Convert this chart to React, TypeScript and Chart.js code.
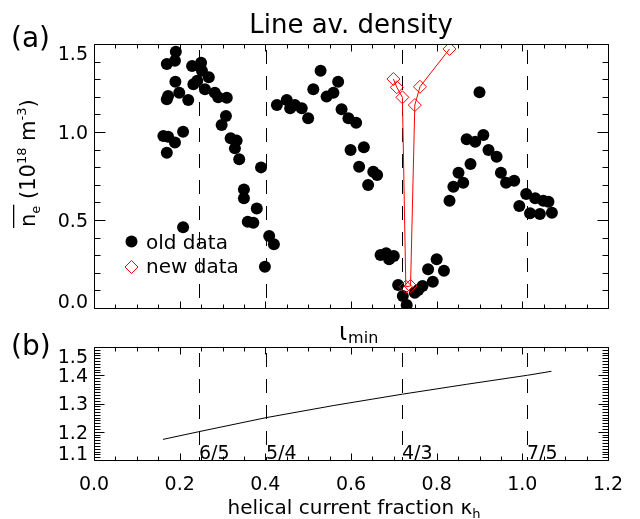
import React, { useEffect, useRef } from 'react';
import { Chart, registerables } from 'chart.js';

Chart.register(...registerables);

// ---------- data ----------
const OLD_KAPPA = [
  0.191, 0.170, 0.189, 0.229, 0.250, 0.252, 0.190, 0.232, 0.241, 0.268,
  0.170, 0.173, 0.199, 0.220, 0.259, 0.282, 0.290, 0.310, 0.308, 0.298,
  0.162, 0.173, 0.189, 0.208, 0.170, 0.319, 0.333, 0.329, 0.339, 0.390,
  0.350, 0.350, 0.380, 0.359, 0.372, 0.208, 0.409, 0.420, 0.399,
  0.427, 0.450, 0.469, 0.485, 0.458, 0.500, 0.529, 0.570, 0.512, 0.543,
  0.559, 0.578, 0.594, 0.612, 0.599, 0.630, 0.619, 0.652, 0.661, 0.640,
  0.669, 0.682, 0.689, 0.700, 0.710, 0.721, 0.730, 0.749, 0.767, 0.791,
  0.780, 0.800, 0.817, 0.757,
  0.830, 0.839, 0.862, 0.851, 0.879, 0.900, 0.870, 0.890, 0.909, 0.921,
  0.940, 0.950, 0.962, 0.981, 1.009, 1.030, 1.049, 1.061, 0.993, 1.018,
  1.041, 1.069,
];
const OLD_DENSITY = [
  1.456, 1.386, 1.405, 1.375, 1.394, 1.348, 1.286, 1.271, 1.291, 1.311,
  1.186, 1.205, 1.223, 1.182, 1.243, 1.223, 1.197, 1.195, 1.091, 1.040,
  0.977, 0.973, 0.941, 1.002, 0.882, 0.964, 0.951, 0.907, 0.845, 0.799,
  0.674, 0.623, 0.566, 0.490, 0.485, 0.459, 0.409, 0.362, 0.235,
  1.153, 1.182, 1.153, 1.135, 1.135, 1.078, 1.348, 1.286, 1.243, 1.201,
  1.223, 1.129, 1.078, 1.053, 0.898, 0.913, 0.803, 0.774, 0.756, 0.699,
  0.301, 0.311, 0.277, 0.295, 0.131, 0.068, 0.017, 0.087, 0.125, 0.149,
  0.220, 0.277, 0.212, 0.102,
  0.610, 0.689, 0.712, 0.769, 0.818, 1.226, 0.959, 0.945, 0.983, 0.898,
  0.860, 0.769, 0.712, 0.723, 0.648, 0.623, 0.610, 0.604, 0.580, 0.538,
  0.534, 0.541,
];
const NEW_KAPPA = [0.699, 0.707, 0.720, 0.728, 0.739, 0.749, 0.761, 0.830];
const NEW_DENSITY = [1.301, 1.254, 1.197, 0.121, 0.125, 1.153, 1.257, 1.472];

const IOTA_KAPPA = [0.161, 0.244, 0.402, 0.56, 0.72, 0.87, 1.012, 1.068];
const IOTA_VALUES = [1.173, 1.2, 1.25, 1.293, 1.333, 1.368, 1.4, 1.414];

const RES_KAPPA = [0.244, 0.402, 0.72, 1.012];
const RES_LABELS = ['6/5', '5/4', '4/3', '7/5'];

const X_TICKS = [0, 0.2, 0.4, 0.6, 0.8, 1.0, 1.2];
const TOP_Y_TICKS = [0, 0.5, 1.0, 1.5];
const BOT_Y_TICKS = [1.1, 1.2, 1.3, 1.4, 1.5];

const TITLE_TOP = 'Line av. density';
const LEGEND_OLD = 'old data';
const LEGEND_NEW = 'new data';
const X_TITLE = 'helical current fraction \u03BA';

const FONT = "'DejaVu Sans', 'Liberation Sans', sans-serif";
const TICK_PX = 19;
const DIGIT_H = 0.729 * TICK_PX;

// ---------- drawing helpers ----------
function drawFrame(chart: any, o: any) {
  const { ctx, chartArea: a, scales } = chart;
  const xs = scales.x;
  const ys = scales.y;
  ctx.save();
  ctx.strokeStyle = '#000';
  ctx.lineWidth = 1;
  const L = Math.round(a.left) + 0.5;
  const T = Math.round(a.top) + 0.5;
  const R = Math.round(a.right) + 0.5;
  const B = Math.round(a.bottom) + 0.5;
  ctx.beginPath();
  ctx.rect(L, T, R - L, B - T);
  ctx.stroke();

  ctx.beginPath();
  // x ticks (every 0.05, major every 0.2)
  for (let i = 0; i <= 24; i++) {
    const v = i * 0.05;
    const px = Math.round(xs.getPixelForValue(v)) + 0.5;
    const len = i % 4 === 0 ? 7 : 4;
    ctx.moveTo(px, B);
    ctx.lineTo(px, B - len);
    ctx.moveTo(px, T);
    ctx.lineTo(px, T + len);
  }
  // y ticks
  for (let i = 0; i <= o.yCount; i++) {
    const v = o.yMin + i * o.yStep;
    const py = Math.round(ys.getPixelForValue(v)) + 0.5;
    const len = i % o.yMajorEvery === 0 ? o.yMajorLen : o.yMinorLen;
    ctx.moveTo(L, py);
    ctx.lineTo(L + len, py);
    ctx.moveTo(R, py);
    ctx.lineTo(R - len, py);
  }
  ctx.stroke();

  // y labels
  ctx.fillStyle = '#000';
  ctx.font = `${TICK_PX}px ${FONT}`;
  ctx.textAlign = 'right';
  ctx.textBaseline = 'alphabetic';
  for (const v of o.yLabels) {
    const py = ys.getPixelForValue(v);
    let base = py + DIGIT_H / 2;
    if (Math.abs(v - ys.max) < 1e-9) base = a.top + 2 + DIGIT_H;
    if (Math.abs(v - ys.min) < 1e-9) base = a.bottom;
    ctx.fillText(v.toFixed(1), 88, base);
  }
  ctx.restore();
}

function drawDashed(chart: any) {
  const { ctx, chartArea: a, scales } = chart;
  ctx.save();
  ctx.strokeStyle = '#000';
  ctx.lineWidth = 1;
  ctx.setLineDash([14, 12]);
  for (const k of RES_KAPPA) {
    const px = Math.round(scales.x.getPixelForValue(k)) + 0.5;
    ctx.beginPath();
    ctx.moveTo(px, a.top + 6);
    ctx.lineTo(px, a.bottom);
    ctx.stroke();
  }
  ctx.restore();
}

function drawYTitle(ctx: CanvasRenderingContext2D) {
  ctx.save();
  ctx.translate(35, 227);
  ctx.rotate(-Math.PI / 2);
  ctx.fillStyle = '#000';
  ctx.textAlign = 'left';
  ctx.textBaseline = 'alphabetic';
  let x = 0;
  const big = `21px ${FONT}`;
  const small = `13px ${FONT}`;
  const piece = (t: string, font: string, dy: number) => {
    ctx.font = font;
    ctx.fillText(t, x, dy);
    x += ctx.measureText(t).width;
  };
  piece('n', big, 0);
  piece('e', small, 5);
  const neEnd = x;
  piece(' (10', big, 0);
  piece('18', small, -9);
  piece(' m', big, 0);
  piece('-3', small, -9);
  piece(')', big, 0);
  ctx.fillRect(-1, -22, neEnd + 2, 1.3);
  ctx.restore();
}

const topPlugin = {
  id: 'topDeco',
  beforeDatasetsDraw(chart: any) {
    drawDashed(chart);
  },
  afterDraw(chart: any) {
    const { ctx } = chart;
    drawFrame(chart, {
      yMin: 0, yStep: 0.1, yCount: 15, yMajorEvery: 5, yMajorLen: 11, yMinorLen: 6,
      yLabels: TOP_Y_TICKS,
    });
    ctx.save();
    ctx.fillStyle = '#000';
    // title
    ctx.font = `26px ${FONT}`;
    ctx.textAlign = 'center';
    ctx.textBaseline = 'alphabetic';
    ctx.fillText(TITLE_TOP, 351, 33);
    // panel label
    ctx.font = `28px ${FONT}`;
    ctx.textAlign = 'left';
    ctx.fillText('(a)', 11, 47);
    // legend
    ctx.font = `20px ${FONT}`;
    ctx.fillText(LEGEND_OLD, 146, 249);
    ctx.fillText(LEGEND_NEW, 146, 273);
    ctx.beginPath();
    ctx.arc(131.5, 241.5, 6, 0, Math.PI * 2);
    ctx.fill();
    ctx.strokeStyle = '#ff0000';
    ctx.lineWidth = 1;
    ctx.beginPath();
    ctx.moveTo(131.5, 267 - 6.5);
    ctx.lineTo(138, 267);
    ctx.lineTo(131.5, 267 + 6.5);
    ctx.lineTo(125, 267);
    ctx.closePath();
    ctx.stroke();
    ctx.restore();
    drawYTitle(ctx);
  },
};

const bottomPlugin = {
  id: 'bottomDeco',
  beforeDatasetsDraw(chart: any) {
    drawDashed(chart);
  },
  afterDraw(chart: any) {
    const { ctx, scales } = chart;
    drawFrame(chart, {
      yMin: 1.1, yStep: 0.01, yCount: 40, yMajorEvery: 10, yMajorLen: 10, yMinorLen: 6,
      yLabels: BOT_Y_TICKS,
    });
    ctx.save();
    ctx.fillStyle = '#000';
    ctx.textBaseline = 'alphabetic';
    // x tick labels
    ctx.font = `${TICK_PX}px ${FONT}`;
    ctx.textAlign = 'center';
    for (const v of X_TICKS) {
      ctx.fillText(v.toFixed(1), scales.x.getPixelForValue(v), 490);
    }
    // resonance labels
    ctx.textAlign = 'left';
    RES_KAPPA.forEach((k, i) => {
      const px = Math.round(scales.x.getPixelForValue(k));
      ctx.fillText(RES_LABELS[i], px, 459);
    });
    // x title
    ctx.font = `20px ${FONT}`;
    const w1 = ctx.measureText(X_TITLE).width;
    ctx.font = `13px ${FONT}`;
    const w2 = ctx.measureText('h').width;
    const x0 = 354 - (w1 + w2) / 2;
    ctx.font = `20px ${FONT}`;
    ctx.fillText(X_TITLE, x0, 514);
    ctx.font = `13px ${FONT}`;
    ctx.fillText('h', x0 + w1, 518);
    // panel label
    ctx.font = `28px ${FONT}`;
    ctx.fillText('(b)', 11, 355);
    // iota_min
    ctx.font = `24px ${FONT}`;
    ctx.fillText('\u03B9', 339, 340);
    const wi = ctx.measureText('\u03B9').width;
    ctx.font = `16px ${FONT}`;
    ctx.fillText('min', 339 + wi + 1, 343);
    ctx.restore();
  },
};

export default function App() {
  const topRef = useRef<HTMLCanvasElement>(null);
  const botRef = useRef<HTMLCanvasElement>(null);

  useEffect(() => {
    document.body.style.margin = '0';
    document.body.style.background = '#ffffff';
    const common = {
      responsive: false,
      maintainAspectRatio: false,
      animation: false as const,
      events: [] as any[],
      plugins: { legend: { display: false }, tooltip: { enabled: false }, title: { display: false } },
    };
    const top = new Chart(topRef.current as HTMLCanvasElement, {
      type: 'scatter',
      data: {
        datasets: [
          {
            label: LEGEND_NEW,
            data: NEW_KAPPA.map((k, i) => ({ x: k, y: NEW_DENSITY[i] })),
            showLine: true,
            borderColor: '#ff0000',
            borderWidth: 1,
            pointStyle: 'rectRot',
            pointRadius: 6.5,
            pointBorderColor: '#ff0000',
            pointBackgroundColor: 'rgba(0,0,0,0)',
            pointBorderWidth: 1,
            order: 0,
            clip: 0,
          },
          {
            label: LEGEND_OLD,
            data: OLD_KAPPA.map((k, i) => ({ x: k, y: OLD_DENSITY[i] })),
            showLine: false,
            pointStyle: 'circle',
            pointRadius: 6,
            pointBackgroundColor: '#000',
            pointBorderColor: '#000',
            pointBorderWidth: 0,
            order: 1,
            clip: 0,
          },
        ],
      },
      options: {
        ...common,
        layout: { padding: { left: 94, right: 32, top: 44, bottom: 519 - 308 } },
        scales: {
          x: { type: 'linear', min: 0, max: 1.2, display: false },
          y: { type: 'linear', min: 0, max: 1.5, display: false },
        },
      },
      plugins: [topPlugin],
    });
    const bot = new Chart(botRef.current as HTMLCanvasElement, {
      type: 'scatter',
      data: {
        datasets: [
          {
            label: 'iota_min',
            data: IOTA_KAPPA.map((k, i) => ({ x: k, y: IOTA_VALUES[i] })),
            showLine: true,
            borderColor: '#000',
            borderWidth: 1,
            pointRadius: 0,
            tension: 0,
            clip: 0,
          },
        ],
      },
      options: {
        ...common,
        layout: { padding: { left: 94, right: 32, top: 347, bottom: 519 - 460 } },
        scales: {
          x: { type: 'linear', min: 0, max: 1.2, display: false },
          y: { type: 'linear', min: 1.1, max: 1.5, display: false },
        },
      },
      plugins: [bottomPlugin],
    });
    return () => {
      top.destroy();
      bot.destroy();
    };
  }, []);

  return (
    <div style={{ position: 'relative', width: 640, height: 519, background: '#fff' }}>
      <canvas ref={topRef} width={640} height={519} style={{ position: 'absolute', left: 0, top: 0 }} />
      <canvas ref={botRef} width={640} height={519} style={{ position: 'absolute', left: 0, top: 0 }} />
    </div>
  );
}
